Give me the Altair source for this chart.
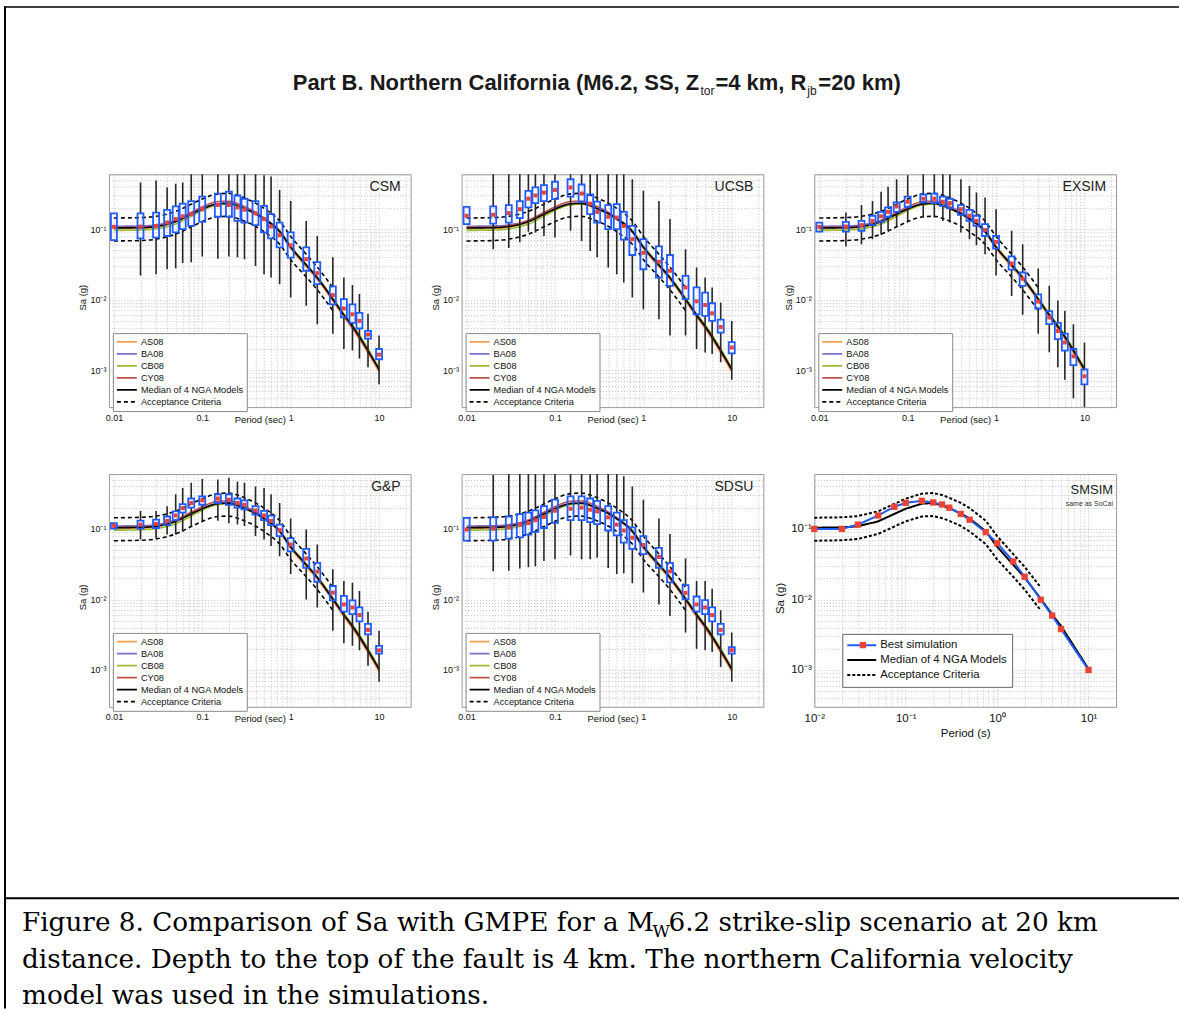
import altair as alt
import pandas as pd

FONT = "Liberation Sans"
SERIF = "DejaVu Serif"
BLUE = "#1f5bff"
RED = "#ea4335"
WHISKER = "#262626"

# ---------------- data ----------------
PERIODS = [0.01, 0.02, 0.03, 0.04, 0.05, 0.06, 0.075, 0.1, 0.15, 0.2, 0.25, 0.3, 0.4,
           0.5, 0.6, 0.75, 1, 1.5, 2, 3, 4, 5, 6, 7.5, 10]

NGA_T = [0.01, 0.02, 0.03, 0.05, 0.075, 0.1, 0.15, 0.2, 0.25, 0.3, 0.4, 0.5, 0.75, 1,
         1.5, 2, 3, 4, 5, 10]
AS08 = [0.101, 0.102, 0.106, 0.126, 0.160, 0.189, 0.221, 0.226, 0.212, 0.193, 0.163, 0.137,
        0.090, 0.053, 0.029, 0.0193, 0.0096, 0.0057, 0.0039, 0.00095]
BA08 = [0.110, 0.111, 0.115, 0.133, 0.167, 0.197, 0.230, 0.233, 0.216, 0.196, 0.165, 0.138,
        0.091, 0.055, 0.031, 0.0204, 0.0101, 0.0061, 0.0042, 0.00104]
CB08 = [0.096, 0.097, 0.101, 0.118, 0.152, 0.184, 0.222, 0.228, 0.214, 0.195, 0.167, 0.143,
        0.096, 0.058, 0.032, 0.0212, 0.0106, 0.0063, 0.0044, 0.00108]
CY08 = [0.106, 0.107, 0.112, 0.134, 0.173, 0.207, 0.246, 0.249, 0.231, 0.209, 0.174, 0.144,
        0.093, 0.055, 0.031, 0.0201, 0.0099, 0.0059, 0.0040, 0.00100]
NGA_MEDIAN = [0.104, 0.105, 0.109, 0.128, 0.163, 0.193, 0.228, 0.232, 0.216, 0.196, 0.166,
              0.140, 0.093, 0.056, 0.031, 0.0205, 0.0102, 0.0061, 0.0042, 0.00103]

ACC_T = [0.01, 0.02, 0.03, 0.05, 0.075, 0.1, 0.15, 0.2, 0.25, 0.3, 0.4, 0.5, 0.75, 1, 1.5, 2, 3]
ACC_UPPER = [0.144, 0.146, 0.152, 0.178, 0.226, 0.268, 0.316, 0.322, 0.302, 0.276, 0.234,
             0.197, 0.131, 0.079, 0.044, 0.029, 0.0148]
ACC_LOWER = [0.068, 0.069, 0.072, 0.085, 0.108, 0.128, 0.150, 0.152, 0.142, 0.130, 0.110,
             0.092, 0.061, 0.037, 0.021, 0.0138, 0.0070]

BEST_SIM = [0.100, 0.100, 0.115, 0.155, 0.206, 0.234, 0.250, 0.237, 0.222, 0.200, 0.163,
            0.135, 0.090, 0.063, 0.0345, 0.021, 0.0099, 0.0059, 0.0038, 0.00100]

# box statistics (whisker max, q3, median, q1, whisker min) per period
CSM_MAX = [0.167, 0.46, 0.49, 0.39, 0.44, 0.46, 0.9, 0.9, 0.9, 0.9, 0.9, 0.9, 0.9, 0.58, 0.56,
           0.36, 0.25, 0.131, 0.080, 0.040, 0.0206, 0.0162, 0.012, 0.0063, 0.0031]
CSM_Q3 = [0.167, 0.167, 0.172, 0.188, 0.21, 0.23, 0.25, 0.29, 0.32, 0.34, 0.30, 0.27, 0.25,
          0.214, 0.163, 0.124, 0.090, 0.055, 0.034, 0.0154, 0.0102, 0.0086, 0.0065, 0.0036, 0.0020]
CSM_MED = [0.108, 0.109, 0.111, 0.124, 0.139, 0.152, 0.163, 0.192, 0.22, 0.22, 0.203, 0.188,
           0.167, 0.139, 0.109, 0.082, 0.059, 0.0375, 0.0238, 0.0116, 0.0075, 0.0062, 0.0050,
           0.0032, 0.00166]
CSM_Q1 = [0.070, 0.074, 0.076, 0.080, 0.090, 0.100, 0.111, 0.127, 0.150, 0.150, 0.131, 0.124,
          0.114, 0.090, 0.074, 0.055, 0.0396, 0.0257, 0.0166, 0.0086, 0.0056, 0.0047, 0.0039,
          0.0028, 0.00143]
CSM_MIN = [0.070, 0.022, 0.023, 0.027, 0.028, 0.033, 0.034, 0.041, 0.038, 0.041, 0.040, 0.0375,
           0.030, 0.023, 0.0206, 0.0166, 0.0107, 0.0082, 0.0045, 0.0033, 0.0020, 0.0019, 0.00146,
           0.0011, 0.00063]

UCSB_MAX = [0.207, 0.9, 0.9, 0.9, 0.9, 0.9, 0.9, 0.9, 0.9, 0.9, 0.9, 0.9, 0.9, 0.9, 0.9, 0.51,
            0.35, 0.25, 0.139, 0.052, 0.0285, 0.0206, 0.0149, 0.0091, 0.0050]
UCSB_Q3 = [0.207, 0.21, 0.219, 0.25, 0.35, 0.39, 0.42, 0.47, 0.51, 0.43, 0.31, 0.245, 0.219,
           0.226, 0.176, 0.111, 0.072, 0.057, 0.043, 0.0218, 0.0149, 0.0126, 0.0089, 0.0052, 0.0025]
UCSB_MED = [0.155, 0.16, 0.169, 0.192, 0.27, 0.30, 0.33, 0.36, 0.39, 0.32, 0.23, 0.176, 0.150,
            0.146, 0.111, 0.072, 0.046, 0.0345, 0.0257, 0.0149, 0.0095, 0.0084, 0.0064, 0.0041,
            0.0021]
UCSB_Q1 = [0.118, 0.12, 0.124, 0.143, 0.203, 0.234, 0.25, 0.267, 0.29, 0.245, 0.163, 0.124,
           0.100, 0.100, 0.071, 0.043, 0.027, 0.0206, 0.0157, 0.0102, 0.0062, 0.0059, 0.0050,
           0.0034, 0.00173]
UCSB_MIN = [0.118, 0.052, 0.054, 0.065, 0.092, 0.090, 0.080, 0.076, 0.095, 0.068, 0.049, 0.040,
            0.0285, 0.023, 0.0175, 0.0107, 0.0073, 0.0053, 0.0031, 0.0031, 0.0020, 0.00178,
            0.0017, 0.0013, 0.00073]

EXSIM_MAX = [0.124, 0.172, 0.22, 0.25, 0.34, 0.40, 0.51, 0.58, 0.9, 0.9, 0.9, 0.60, 0.51, 0.41,
             0.33, 0.28, 0.192, 0.095, 0.061, 0.0277, 0.0157, 0.0097, 0.0069, 0.0045, 0.00247]
EXSIM_Q3 = [0.124, 0.127, 0.131, 0.155, 0.176, 0.203, 0.239, 0.29, 0.31, 0.32, 0.29, 0.27,
            0.219, 0.188, 0.155, 0.118, 0.080, 0.041, 0.0243, 0.0119, 0.0069, 0.0047, 0.0033,
            0.0020, 0.00103]
EXSIM_MED = [0.108, 0.109, 0.114, 0.131, 0.152, 0.176, 0.21, 0.245, 0.27, 0.27, 0.245, 0.234,
             0.192, 0.155, 0.131, 0.097, 0.066, 0.0326, 0.0199, 0.0094, 0.0056, 0.0036, 0.00247,
             0.00157, 0.00082]
EXSIM_Q1 = [0.092, 0.092, 0.095, 0.114, 0.127, 0.15, 0.176, 0.207, 0.239, 0.234, 0.214, 0.198,
            0.16, 0.131, 0.111, 0.080, 0.053, 0.0266, 0.0157, 0.0075, 0.0045, 0.00275, 0.0019,
            0.00118, 0.00063]
EXSIM_MIN = [0.092, 0.057, 0.061, 0.072, 0.083, 0.095, 0.111, 0.127, 0.146, 0.146, 0.131, 0.124,
             0.09, 0.072, 0.059, 0.044, 0.022, 0.0113, 0.0061, 0.0033, 0.0018, 0.0011, 0.00073,
             0.0004, 0.0002]

GP_MAX = [0.121, 0.18, 0.18, 0.21, 0.31, 0.38, 0.45, 0.51, 0.50, 0.53, 0.47, 0.45, 0.40, 0.38,
          0.31, 0.233, 0.14, 0.098, 0.06, 0.0267, 0.0183, 0.0173, 0.0132, 0.0067, 0.0036]
GP_Q3 = [0.121, 0.131, 0.135, 0.15, 0.177, 0.225, 0.27, 0.29, 0.31, 0.31, 0.27, 0.254, 0.21,
         0.18, 0.154, 0.115, 0.074, 0.052, 0.033, 0.0155, 0.0112, 0.0097, 0.0077, 0.0045, 0.0022]
GP_MED = [0.111, 0.115, 0.118, 0.13, 0.155, 0.197, 0.233, 0.254, 0.27, 0.26, 0.233, 0.22, 0.183,
          0.155, 0.13, 0.096, 0.06, 0.038, 0.0248, 0.0125, 0.0085, 0.0077, 0.006, 0.0037, 0.0019]
GP_Q1 = [0.101, 0.101, 0.103, 0.113, 0.133, 0.17, 0.2, 0.22, 0.233, 0.22, 0.2, 0.19, 0.159,
         0.133, 0.113, 0.079, 0.048, 0.028, 0.0178, 0.0097, 0.0067, 0.0062, 0.0049, 0.0032, 0.0017]
GP_MIN = [0.101, 0.071, 0.073, 0.083, 0.083, 0.092, 0.11, 0.128, 0.131, 0.12, 0.115, 0.11, 0.079,
          0.071, 0.057, 0.041, 0.023, 0.010, 0.0077, 0.0036, 0.0024, 0.0022, 0.0019, 0.00115,
          0.00068]

SDSU_MAX = [0.143, 0.58, 0.60, 0.9, 0.9, 0.9, 0.9, 0.9, 0.9, 0.9, 0.9, 0.9, 0.9, 0.9, 0.56, 0.40,
            0.26, 0.14, 0.085, 0.038, 0.0183, 0.0183, 0.0142, 0.007, 0.0034]
SDSU_Q3 = [0.143, 0.146, 0.15, 0.162, 0.17, 0.183, 0.21, 0.26, 0.29, 0.29, 0.27, 0.25, 0.21,
           0.17, 0.133, 0.105, 0.079, 0.054, 0.033, 0.016, 0.011, 0.0098, 0.0077, 0.0045, 0.0021]
SDSU_MED = [0.098, 0.101, 0.105, 0.115, 0.121, 0.133, 0.148, 0.181, 0.193, 0.20, 0.187, 0.177,
            0.146, 0.115, 0.095, 0.075, 0.059, 0.040, 0.025, 0.0124, 0.0085, 0.0077, 0.006,
            0.0037, 0.0019]
SDSU_Q1 = [0.068, 0.068, 0.073, 0.076, 0.083, 0.091, 0.103, 0.122, 0.133, 0.133, 0.125, 0.117,
           0.095, 0.081, 0.064, 0.052, 0.044, 0.028, 0.0175, 0.010, 0.0067, 0.0062, 0.0049,
           0.0032, 0.0017]
SDSU_MIN = [0.068, 0.025, 0.0255, 0.0275, 0.0287, 0.0295, 0.035, 0.037, 0.042, 0.037, 0.037,
            0.039, 0.028, 0.023, 0.0235, 0.017, 0.0125, 0.0085, 0.0058, 0.0034, 0.002, 0.0019,
            0.0018, 0.0011, 0.00068]

SERIES_NGA = ["AS08", "BA08", "CB08", "CY08", "Median of 4 NGA Models", "Acceptance Criteria"]
SERIES_SM = ["Best simulation", "Median of 4 NGA Models", "Acceptance Criteria"]

# tick / grid positions and labels
X_GRID = [0.01, 0.02, 0.03, 0.04, 0.05, 0.06, 0.07, 0.08, 0.09,
          0.1, 0.2, 0.3, 0.4, 0.5, 0.6, 0.7, 0.8, 0.9,
          1.0, 2.0, 3.0, 4.0, 5.0, 6.0, 7.0, 8.0, 9.0, 10.0, 20.0]
Y_GRID = [0.0003, 0.0004, 0.0005, 0.0006, 0.0007, 0.0008, 0.0009,
          0.001, 0.002, 0.003, 0.004, 0.005, 0.006, 0.007, 0.008, 0.009,
          0.01, 0.02, 0.03, 0.04, 0.05, 0.06, 0.07, 0.08, 0.09,
          0.1, 0.2, 0.3, 0.4, 0.5, 0.6]
X_LABELS_SMALL = {0.01: "0.01", 0.1: "0.1", 1.0: "1", 10.0: "10"}
X_LABELS_POW = {0.01: "10⁻²", 0.1: "10⁻¹", 1.0: "10⁰", 10.0: "10¹"}
Y_LABELS_POW = {0.001: "10⁻³", 0.01: "10⁻²", 0.1: "10⁻¹"}

# ---------------- tables ----------------
rows = []
for name, vals in zip(SERIES_NGA[:4], [AS08, BA08, CB08, CY08]):
    for t, v in zip(NGA_T, vals):
        rows.append({"period": t, "sa": v, "series": name, "part": name})
for t, v in zip(NGA_T, NGA_MEDIAN):
    rows.append({"period": t, "sa": v, "series": "Median of 4 NGA Models", "part": "median"})
for t, v in zip(ACC_T, ACC_UPPER):
    rows.append({"period": t, "sa": v, "series": "Acceptance Criteria", "part": "upper"})
for t, v in zip(ACC_T, ACC_LOWER):
    rows.append({"period": t, "sa": v, "series": "Acceptance Criteria", "part": "lower"})
NGA_DF = pd.DataFrame(rows)

rows = []
for t, v in zip(ACC_T, ACC_UPPER):
    rows.append({"period": t, "sa": v, "series": "Acceptance Criteria", "part": "upper"})
for t, v in zip(ACC_T, ACC_LOWER):
    rows.append({"period": t, "sa": v, "series": "Acceptance Criteria", "part": "lower"})
for t, v in zip(NGA_T, NGA_MEDIAN):
    rows.append({"period": t, "sa": v, "series": "Median of 4 NGA Models", "part": "median"})
for t, v in zip(NGA_T, BEST_SIM):
    rows.append({"period": t, "sa": v, "series": "Best simulation", "part": "best"})
SM_DF = pd.DataFrame(rows)
BEST_DF = pd.DataFrame({"period": NGA_T, "sa": BEST_SIM, "lbl": ["Best simulation"] * len(NGA_T)})

XSCALE = alt.Scale(type="log", domain=[0.01, 20], nice=False)
YSCALE = alt.Scale(type="log", domain=[0.0003, 0.6], nice=False)

PW, PH = 302, 233
NOVIEW = alt.ViewBackground(strokeWidth=0, strokeOpacity=0)


def label_expr(mapping):
    return " : ".join(f"datum.value == {k} ? '{v}'" for k, v in mapping.items()) + " : ''"


GRID = dict(grid=True, gridDash=[1, 2], gridColor="#b0b0b0", gridWidth=0.8, ticks=False,
            domain=False, labelOverlap=False, labelFlush=False, labelBound=False,
            labelFont=FONT, labelColor="#111", titleFont=FONT, titleColor="#111",
            titleFontWeight="normal")


def x_axis(small=True):
    if small:
        return alt.Axis(values=X_GRID, labelExpr=label_expr(X_LABELS_SMALL), labelFontSize=9,
                        labelPadding=6, title="Period (sec)", titleFontSize=9.5, titleY=12,
                        titleBaseline="middle", **GRID)
    return alt.Axis(values=X_GRID, labelExpr=label_expr(X_LABELS_POW), labelFontSize=11.5,
                    labelPadding=6, title="Period (s)", titleFontSize=11.5, titleY=27,
                    titleBaseline="middle", **GRID)


def y_axis(small=True):
    if small:
        return alt.Axis(values=Y_GRID, labelExpr=label_expr(Y_LABELS_POW), labelFontSize=9,
                        labelPadding=3, title="Sa (g)", titleFontSize=9.5, titleX=-26,
                        titleY=123, titleBaseline="middle", titleAlign="center", **GRID)
    return alt.Axis(values=Y_GRID, labelExpr=label_expr(Y_LABELS_POW), labelFontSize=11.5,
                    labelPadding=3, title="Sa (g)", titleFontSize=11.5, titleX=-34,
                    titleY=124, titleBaseline="middle", titleAlign="center", **GRID)


def panel_title(name, subtitle=None):
    kw = dict(text=name, anchor="end", offset=-24, dx=-10, fontSize=14, font=FONT,
              fontWeight="normal", color="#222")
    if subtitle:
        kw.update(subtitle=subtitle, subtitleFontSize=7, subtitleFont=FONT,
                  subtitleColor="#333", subtitlePadding=3, offset=-39, dx=-3, fontSize=13)
    return alt.TitleParams(**kw)


def box_panel(name, vmax, q3, med, q1, vmin):
    df = pd.DataFrame({"period": PERIODS, "vmax": vmax, "q3": q3, "med": med, "q1": q1,
                       "vmin": vmin})
    xa, ya = x_axis(True), y_axis(True)
    leg = alt.Legend(orient="none", legendX=4, legendY=159, title=None, fillColor="white",
                     strokeColor="#8a8a8a", padding=3, labelFontSize=9.2, labelFont=FONT,
                     labelColor="#111", symbolType="stroke", symbolSize=400, clipHeight=11.5,
                     rowPadding=0, labelOffset=3, labelLimit=300)
    X = alt.X("period:Q", scale=XSCALE, axis=xa)
    lines = alt.Chart(NGA_DF).mark_line(interpolate="monotone").encode(
        x=X,
        y=alt.Y("sa:Q", scale=YSCALE, axis=ya),
        color=alt.Color("series:N", legend=leg, scale=alt.Scale(
            domain=SERIES_NGA,
            range=["#f5a04a", "#7a6fcf", "#9bbb3b", "#c0504d", "#000000", "#000000"])),
        strokeDash=alt.StrokeDash("series:N", legend=leg, scale=alt.Scale(
            domain=SERIES_NGA, range=[[1, 0], [1, 0], [1, 0], [1, 0], [1, 0], [4, 3]])),
        strokeWidth=alt.StrokeWidth("series:N", legend=leg, scale=alt.Scale(
            domain=SERIES_NGA, range=[1.6, 1.6, 1.6, 1.6, 2.2, 1.6])),
        detail="part:N",
    )
    w_hi = alt.Chart(df).mark_rule(color=WHISKER, strokeWidth=1.6, clip=True).encode(
        x=X, y=alt.Y("q3:Q", scale=YSCALE, axis=ya), y2="vmax:Q")
    w_lo = alt.Chart(df).mark_rule(color=WHISKER, strokeWidth=1.6, clip=True).encode(
        x=X, y=alt.Y("vmin:Q", scale=YSCALE, axis=ya), y2="q1:Q")
    boxes = alt.Chart(df).mark_bar(size=6, fill="transparent", stroke=BLUE,
                                   strokeWidth=1.8).encode(
        x=X, y=alt.Y("q1:Q", scale=YSCALE, axis=ya), y2="q3:Q")
    meds = alt.Chart(df).mark_square(size=16, color=RED, opacity=1).encode(
        x=X, y=alt.Y("med:Q", scale=YSCALE, axis=ya))
    return alt.layer(lines, w_hi, w_lo, boxes, meds).properties(
        width=PW, height=PH, title=panel_title(name),
        view=alt.ViewBackground(stroke="#999999", strokeWidth=1, fill="white"))


def smsim_panel():
    xa, ya = x_axis(False), y_axis(False)
    X = alt.X("period:Q", scale=XSCALE, axis=xa)
    leg = alt.Legend(orient="none", legendX=28, legendY=160, title=None, fillColor="white",
                     strokeColor="#666666", padding=4, labelFontSize=11.4, labelFont=FONT,
                     labelColor="#111", symbolType="stroke", symbolSize=841, clipHeight=14.5,
                     rowPadding=0, labelOffset=3, labelLimit=300)
    lines = alt.Chart(SM_DF).mark_line(interpolate="linear").encode(
        x=X,
        y=alt.Y("sa:Q", scale=YSCALE, axis=ya),
        color=alt.Color("series:N", legend=leg, scale=alt.Scale(
            domain=SERIES_SM, range=[BLUE, "#000000", "#000000"])),
        strokeDash=alt.StrokeDash("series:N", legend=leg, scale=alt.Scale(
            domain=SERIES_SM, range=[[1, 0], [1, 0], [3, 2]])),
        strokeWidth=alt.StrokeWidth("series:N", legend=leg, scale=alt.Scale(
            domain=SERIES_SM, range=[2, 2, 1.6])),
        detail="part:N",
    )
    pts = alt.Chart(BEST_DF).mark_point(filled=True, size=40, color=RED, opacity=1).encode(
        x=X,
        y=alt.Y("sa:Q", scale=YSCALE, axis=ya),
        shape=alt.Shape("lbl:N", scale=alt.Scale(domain=["Best simulation"], range=["square"]),
                        legend=alt.Legend(orient="none", legendX=43, legendY=164, title=None,
                                          padding=0, symbolType="square", symbolSize=40,
                                          symbolFillColor=RED, symbolStrokeColor=RED,
                                          symbolOpacity=1, clipHeight=14.5, labelExpr="''",
                                          labelFontSize=11.4)),
    )
    return alt.layer(lines, pts).properties(
        width=PW, height=PH, title=panel_title("SMSIM\u00a0\u00a0\u00a0", "same as SoCal"),
        view=alt.ViewBackground(stroke="#999999", strokeWidth=1, fill="white"))


ONE = alt.Data(values=[{"k": 0}])


def text_piece(s, x, y, size, weight="normal", font=FONT, align="left", color="#111"):
    return alt.Chart(ONE).mark_text(align=align, baseline="alphabetic", font=font,
                                    fontSize=size, fontWeight=weight, color=color).encode(
        x=alt.value(x), y=alt.value(y), text=alt.value(s))


def hrule(x1, x2, y, w):
    return alt.Chart(ONE).mark_rule(color="#000000", strokeWidth=w).encode(
        x=alt.value(x1), x2=alt.value(x2), y=alt.value(y))


def vrule(x, y1, y2, w):
    return alt.Chart(ONE).mark_rule(color="#000000", strokeWidth=w).encode(
        x=alt.value(x), y=alt.value(y1), y2=alt.value(y2))


def blank(w, h):
    return alt.Chart(ONE).mark_text(text="", baseline="top", align="left", fontSize=1).encode(
        x=alt.value(1), y=alt.value(1)).properties(width=w, height=h, view=NOVIEW)


COL0 = 58

header = alt.layer(
    hrule(4, 1180, 6.5, 1.5),
    vrule(5, 6, 1009, 2),
    hrule(5, 1180, 898.5, 2),
    text_piece("Part B. Northern California (M6.2, SS, Z", 293, 90, 22, "bold", color="#1a1a1a"),
    text_piece("tor", 701, 95, 12, color="#1a1a1a"),
    text_piece("=4 km, R", 716, 90, 22, "bold", color="#1a1a1a"),
    text_piece("jb", 808, 95, 12, color="#1a1a1a"),
    text_piece("=20 km)", 819, 90, 22, "bold", color="#1a1a1a"),
).properties(width=COL0, height=107, view=NOVIEW)

CAP = 26.3
caption = alt.layer(
    text_piece("Figure 8. Comparison of Sa with GMPE for a M", 22, 157.5, CAP, font=SERIF, color="#000"),
    text_piece("W", 653, 163, 17, font=SERIF, color="#000"),
    text_piece("6.2 strike-slip scenario at 20 km", 669, 157.5, CAP, font=SERIF, color="#000"),
    text_piece("distance. Depth to the top of the fault is 4 km. The northern California velocity",
               22, 194, CAP, font=SERIF, color="#000"),
    text_piece("model was used in the simulations.", 22, 230.5, CAP, font=SERIF, color="#000"),
).properties(width=COL0, height=235, view=NOVIEW)

RES = dict(color="independent", strokeDash="independent", strokeWidth="independent",
           shape="independent")

cells = [
    header, blank(10, 10), blank(10, 10), blank(10, 10),
    blank(COL0, PH),
    box_panel("CSM", CSM_MAX, CSM_Q3, CSM_MED, CSM_Q1, CSM_MIN),
    box_panel("UCSB", UCSB_MAX, UCSB_Q3, UCSB_MED, UCSB_Q1, UCSB_MIN),
    box_panel("EXSIM", EXSIM_MAX, EXSIM_Q3, EXSIM_MED, EXSIM_Q1, EXSIM_MIN),
    blank(COL0, PH),
    box_panel("G&P", GP_MAX, GP_Q3, GP_MED, GP_Q1, GP_MIN),
    box_panel("SDSU", SDSU_MAX, SDSU_Q3, SDSU_MED, SDSU_Q1, SDSU_MIN),
    smsim_panel(),
    caption,
]

chart = alt.concat(*cells, columns=4, bounds="flush",
                   spacing=alt.RowColnumber(row=67, column=51)).resolve_scale(
    **RES).properties(padding={"left": 0, "top": 0, "right": 0, "bottom": 0}).configure_view(
    strokeWidth=0).configure(background="white")

chart.save("out.html", embed_options={"renderer": "svg", "actions": False})
